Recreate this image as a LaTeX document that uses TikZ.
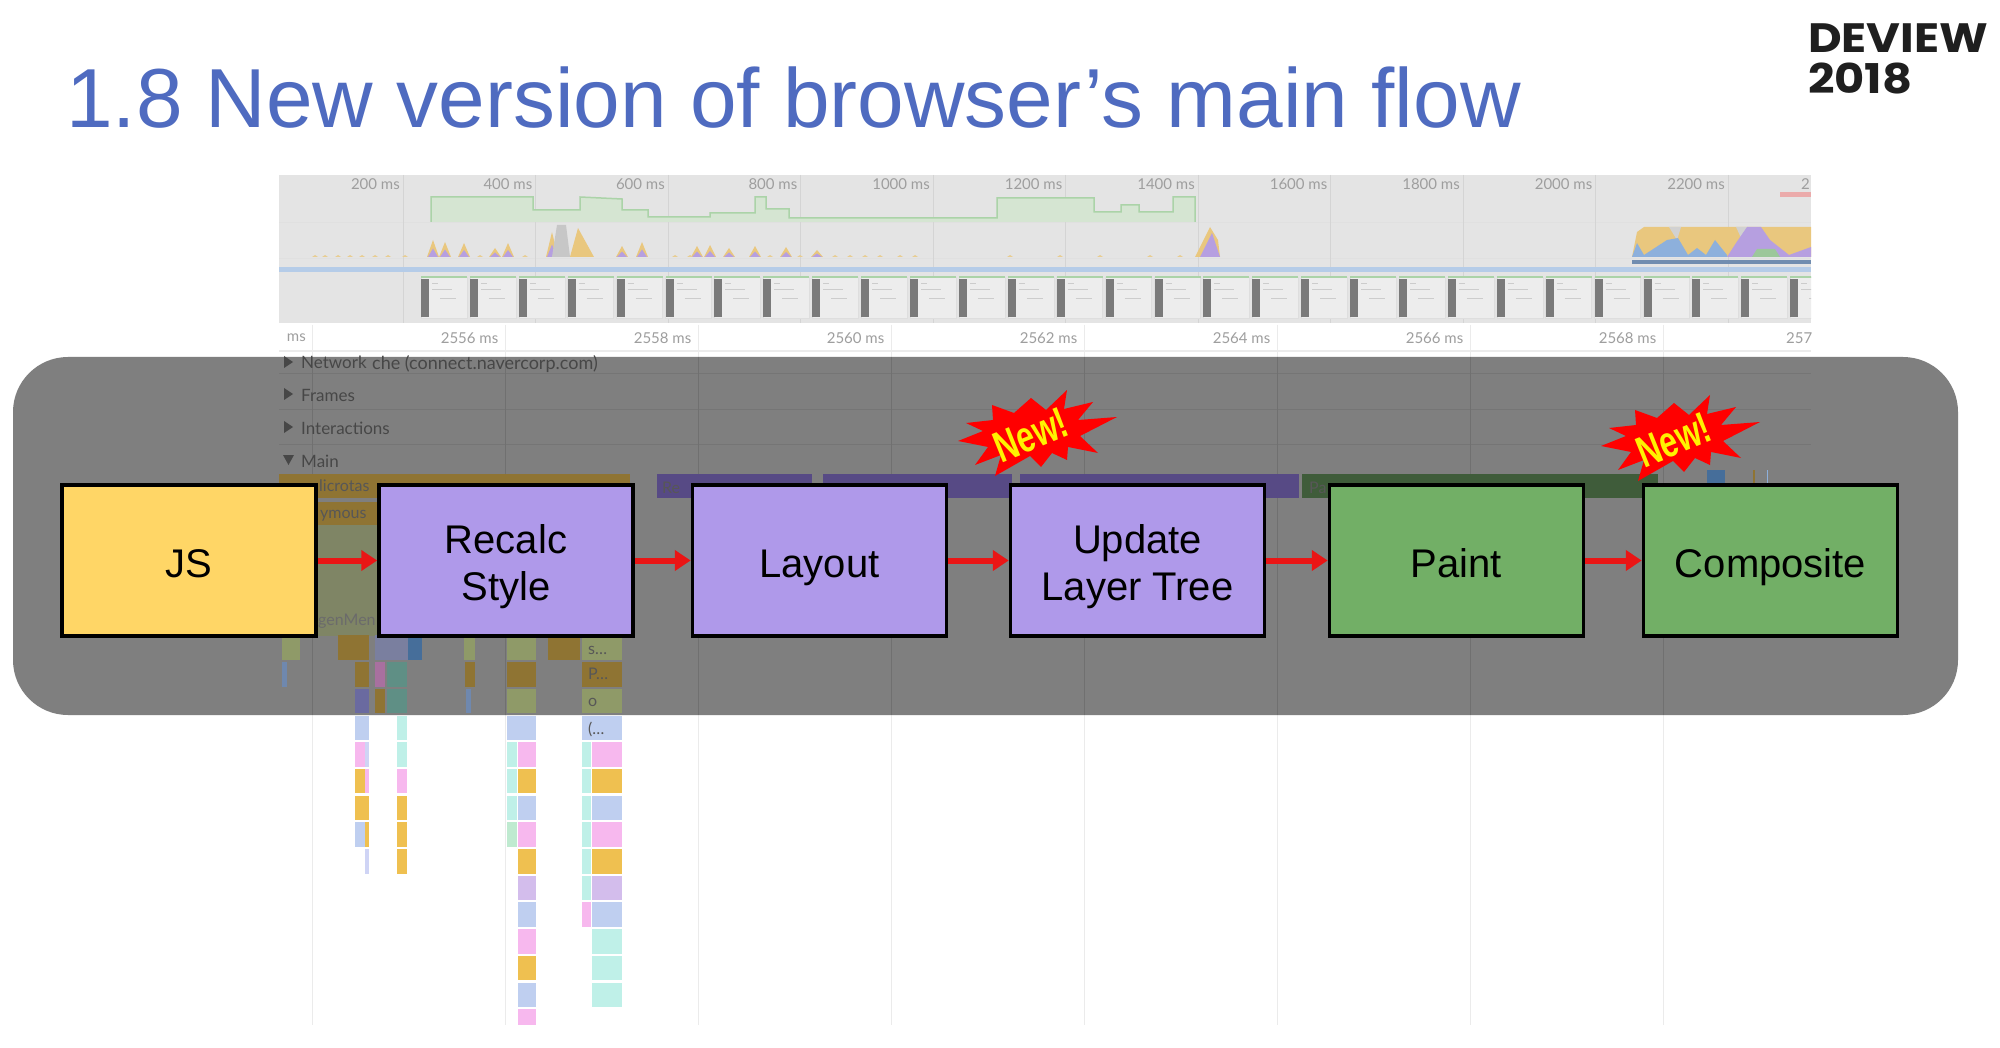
\documentclass[tikz,border=0pt]{standalone}
\usepackage{fontspec}
\setmainfont{Liberation Sans}
\newfontfamily\logofont{Poppins}
\newfontfamily\uifont{Lato}
\usetikzlibrary{arrows.meta}
\definecolor{titleblue}{HTML}{4F6BC0}
\definecolor{jsyellow}{HTML}{FFD666}
\definecolor{boxpurple}{HTML}{AF99EA}
\definecolor{boxgreen}{HTML}{72AF66}
\definecolor{overlaygray}{HTML}{7F7F7F}
\definecolor{ovbg}{HTML}{E4E4E4}
\definecolor{fpsline}{HTML}{ABD3A8}
\definecolor{fpsfill}{HTML}{D5E5D2}
\definecolor{cy}{HTML}{E9C77E}
\definecolor{cb}{HTML}{8DB0DC}
\definecolor{cp}{HTML}{B69FE0}
\definecolor{cg}{HTML}{9CC79A}
\definecolor{brn}{HTML}{8F7433}
\definecolor{olv}{HTML}{7F8565}
\definecolor{lolv}{HTML}{8F9A68}
\definecolor{lblue}{HTML}{BFCFF0}
\definecolor{lpink}{HTML}{F7B8EE}
\definecolor{lteal}{HTML}{BFF0E8}
\definecolor{lyel}{HTML}{EFC050}
\definecolor{lpur}{HTML}{D3BDEC}
\definecolor{llav}{HTML}{CFD4F5}
\definecolor{lgrn}{HTML}{BFEAD0}
\definecolor{dpurple}{HTML}{574A85}
\definecolor{dgreen}{HTML}{3F5C3A}
\definecolor{fteal}{HTML}{5F8F85}
\definecolor{fmauve}{HTML}{A8709F}
\definecolor{fgblue}{HTML}{7A7F9F}
\definecolor{fblue}{HTML}{466E9A}
\definecolor{findigo}{HTML}{6A6AA0}
\definecolor{fthin}{HTML}{6F88AE}
\definecolor{arrowred}{HTML}{EA1515}
\tikzset{
  x=1pt,y=-1pt,
  flowbox/.style={draw=black,line width=3.5pt,minimum width=254pt,minimum height=151pt,inner sep=0pt,align=center,
     font=\fontsize{40}{47}\selectfont,text=black},
  flowarrow/.style={-{Triangle[length=16pt,width=20pt]},line width=6pt,draw=arrowred},
  ticklabel/.style={inner sep=0pt,anchor=east,text=black!38,font=\uifont\fontsize{15}{15}\selectfont},
  rowlabel/.style={inner sep=0pt,anchor=west,text=black!72,font=\uifont\fontsize{17}{17}\selectfont},
  blocklabel/.style={inner sep=0pt,anchor=west,text=black!66,font=\uifont\fontsize{16}{16}\selectfont},
  burst/.pic={
    \fill[red] (29,-43)--(26,-24)--(55,-31)--(40,-13)--(79,-16)--(42,3)--(60,20)--(30,14)--(29,27)--(14,20)--(3,34)--(-8,23)--(-43,43)--(-37,22)--(-63,32)--(-50,14)--(-80,8)--(-55,-2)--(-72,-10)--(-45,-13)--(-46,-28)--(-24,-20)--(-7,-35)--(8,-23)--cycle;
    \node (label) [rotate=22,xscale=.72,text=yellow,inner sep=0pt,font=\bfseries\fontsize{44}{44}\selectfont] at (-7,2) {New!};
  }
}
% row block: x1, x2, row, colour
\newcommand{\blk}[4]{\fill[#4] (#1,{635.4+26.7*(#3-1)}) rectangle (#2,{635.4+26.7*(#3-1)+24.5});}
% one line of a flow box, sitting slightly low as in the reference
\newcommand{\fl}[1]{\raisebox{-7pt}[33pt][14pt]{#1}}
\begin{document}
\begin{tikzpicture}
\useasboundingbox (0,0) rectangle (2000,1048);
\fill[white] (0,0) rectangle (2000,1048);
% title and logo
\node (title) [anchor=base west,inner sep=0pt,text=titleblue,font=\fontsize{83.8}{84}\selectfont] at (66,128) {1.8 New version of browser’s main flow};
\node (logoa) [anchor=base west,inner sep=0pt,xscale=1.13,text=black!88,font=\logofont\bfseries\fontsize{41}{41}\selectfont] at (1808,53) {DEVIEW};
\node (logob) [anchor=base west,inner sep=0pt,xscale=1.13,text=black!88,font=\logofont\bfseries\fontsize{41}{41}\selectfont] at (1808,94) {2018};
% overview
\begin{scope}
\clip (279,175) rectangle (1811,360);
\fill[ovbg] (279,175) rectangle (1811,323);
\draw[black!12,line width=.8pt] (279,222)--(1811,222) (279,258)--(1811,258);
\foreach \k in {0,...,10} \draw[black!17,line width=.8pt] ({403+132.5*\k},175)--({403+132.5*\k},323);
\foreach \k/\t in {0/200,1/400,2/600,3/800,4/1000,5/1200,6/1400,7/1600,8/1800,9/2000,10/2200}
  \node (ov\k) [ticklabel] at ({400+132.5*\k},184) {\t\ ms};
\node (ovlast) [ticklabel,anchor=west] at (1801,184) {2};
% fps
\fill[fpsfill] (431,222)--(431,197)--(533,197)--(533,210)--(580,210)--(580,197)--(622,199)--(622,210)--(648,210)--(648,217)--(710,217)--(710,213)--(755,213)--(755,197)--(766,197)--(766,209)--(789,209)--(789,218)--(997,218)--(997,198)--(1094,198)--(1094,212)--(1121,212)--(1121,205)--(1139,205)--(1139,212)--(1173,212)--(1173,197)--(1195,197)--(1195,222)--cycle;
\draw[fpsline,line width=1.5pt] (431,222)--(431,197)--(533,197)--(533,210)--(580,210)--(580,197)--(622,199)--(622,210)--(648,210)--(648,217)--(710,217)--(710,213)--(755,213)--(755,197)--(766,197)--(766,209)--(789,209)--(789,218)--(997,218)--(997,198)--(1094,198)--(1094,212)--(1121,212)--(1121,205)--(1139,205)--(1139,212)--(1173,212)--(1173,197)--(1195,197)--(1195,222);
% cpu peaks
\foreach \x/\h in {433/240,445/242,464/243,495/248,508/243,622/246,642/242,697/246,710/245,729/248,755/246,786/247,817/250,552/232}{
  \fill[cy] ({\x-6},257)--(\x,\h)--({\x+6},257)--cycle;
  \fill[cp] ({\x-5},257)--(\x,{(\h+257)/2})--({\x+5},257)--cycle;
}
\fill[cy] (570,257) -- (578,228) -- (594,257) --cycle;
\fill[black!22] (552,257)--(557,225)--(566,225)--(570,257)--cycle;
\fill[cy] (1195,257)--(1210,227)--(1218,240)--(1220,257)--cycle;
\fill[cp] (1200,257)--(1212,233)--(1220,257)--cycle;
\foreach \x in {315,325,338,350,362,375,388,405,480,525,675,690,770,800,835,850,865,880,900,915,1010,1060,1100,1150,1180}
  \fill[cy!80!ovbg] ({\x-3},257)--(\x,255)--({\x+3},257)--cycle;
% busy region
\fill[cy] (1632,257)--(1637,232)--(1644,227)--(1811,227)--(1811,257)--cycle;
\fill[black!18] (1669,227)--(1681,227)--(1677,240)--cycle (1736,227)--(1747,227)--(1742,240)--cycle;
\fill[cb] (1632,257)--(1637,243)--(1644,255)--(1667,240)--(1678,238)--(1688,255)--(1697,248)--(1706,255)--(1715,240)--(1727,255)--(1727,257)--cycle;
\fill[cp] (1727,257)--(1736,243)--(1747,227)--(1761,227)--(1770,240)--(1789,255)--(1811,247)--(1811,257)--cycle;
\fill[cg] (1752,257)--(1757,249)--(1775,249)--(1780,257)--cycle;
\fill[cb!80!black] (1632,260) rectangle (1811,264);
\fill[red!25!ovbg] (1780,192) rectangle (1811,197);
% blue bar
\fill[cb!65] (279,267) rectangle (1811,272);
% film strip
\foreach \k in {0,...,28}{
  \fill[black!7] ({421+48.9*\k},277) rectangle ({467+48.9*\k},318);
  \draw[black!13,line width=.6pt] ({421+48.9*\k},277) rectangle ({467+48.9*\k},318);
  \draw[fpsline,line width=1.6pt] ({421+48.9*\k},277)--({467+48.9*\k},277);
  \fill[black!52] ({421+48.9*\k},279) rectangle ({429+48.9*\k},317);
  \draw[black!20,line width=.7pt] ({432+48.9*\k},283)--({438+48.9*\k},283) ({432+48.9*\k},289)--({452+48.9*\k},289) ({440+48.9*\k},298)--({456+48.9*\k},298);
}
% ruler
\foreach \k/\t in {1/2556,2/2558,3/2560,4/2562,5/2564,6/2566,7/2568}
  \node (ru\k) [ticklabel] at ({312.5+193*\k-7},338) {\t\ ms};
\node (rums) [ticklabel] at (306,338) {ms};
\node (rulast) [ticklabel,anchor=west] at (1786,338) {257};
\draw[black!8,line width=1.5pt] (279,351)--(1811,351);
\end{scope}
\foreach \k in {0,...,7} \draw[black!8,line width=1.2pt] ({312.5+193*\k},325)--({312.5+193*\k},1025);
% grey band
\fill[overlaygray,rounded corners=55pt] (13,357) rectangle (1958,715);
\draw[black!54,line width=.9pt] (279,373)--(1811,373) (279,409)--(1811,409) (279,444)--(1811,444);
\foreach \k in {0,...,7} \draw[black!56,line width=1pt] ({312.5+193*\k},357)--({312.5+193*\k},715);
% track labels
\fill[black!72] (284,356)--(293,362)--(284,368)--cycle (284,388)--(293,394)--(284,400)--cycle (284,421)--(293,427)--(284,433)--cycle (283,455)--(294,455)--(288.5,465)--cycle;
\node (tnet) [rowlabel] at (301,362) {Network};
\node (tche) [rowlabel,font=\uifont\fontsize{18}{18}\selectfont] at (372,364) {che (connect.navercorp.com)};
\node (tfra) [rowlabel] at (301,395) {Frames};
\node (tint) [rowlabel] at (301,428) {Interactions};
\node (tmai) [rowlabel] at (301,461) {Main};
% main blocks
\fill[brn] (279,474) rectangle (630,498);
\fill[brn] (279,502) rectangle (379,525);
\fill[olv] (279,525) rectangle (379,636);
\fill[dpurple] (657,474) rectangle (812,498);
\fill[dpurple] (823,474) rectangle (1012,498);
\fill[dpurple] (1020,474) rectangle (1299,498);
\fill[dgreen] (1302,474) rectangle (1658,498);
\fill[fblue] (1707,470) rectangle (1725,488);
\fill[brn] (1753,470) rectangle (1755,488);
\fill[cb] (1767,470) rectangle (1768,488);
\node (mmic) [blocklabel] at (319,486) {licrotas};
\node (many) [blocklabel] at (320,516) {ymous};
\node (mgen) [blocklabel,text=black!58] at (318,621) {genMen};
\node (mre) [blocklabel] at (662,488) {Re};
\node (mpa) [blocklabel] at (1309,488) {Pa};
% flame rows under the boxes
\blk{282}{300}{1}{lolv}\blk{338}{369}{1}{brn}\blk{375}{408}{1}{fgblue}
\blk{408}{422}{1}{fblue}\blk{464}{475}{1}{lolv}\blk{507}{536}{1}{lolv}\blk{548}{580}{1}{brn}\blk{582}{622}{1}{lolv}
\blk{282}{287}{2}{fthin}\blk{355}{369}{2}{brn}\blk{375}{385}{2}{fmauve}\blk{387}{407}{2}{fteal}\blk{465}{475}{2}{brn}\blk{507}{536}{2}{brn}\blk{582}{622}{2}{brn}
\blk{355}{369}{3}{findigo}\blk{375}{385}{3}{brn}\blk{387}{407}{3}{fteal}\blk{466}{471}{3}{fthin}\blk{507}{536}{3}{lolv}\blk{582}{622}{3}{lolv}
\blk{355}{369}{4}{lblue}\blk{397}{407}{4}{lteal}\blk{507}{536}{4}{lblue}\blk{582}{622}{4}{lblue}
\blk{355}{365}{5}{lpink}\blk{365}{369}{5}{llav}\blk{397}{407}{5}{lteal}\blk{507}{517}{5}{lteal}\blk{518}{536}{5}{lpink}\blk{582}{591}{5}{lteal}\blk{592}{622}{5}{lpink}
\blk{355}{365}{6}{lyel}\blk{365}{369}{6}{lpink}\blk{397}{407}{6}{lpink}\blk{507}{517}{6}{lteal}\blk{518}{536}{6}{lyel}\blk{582}{591}{6}{lteal}\blk{592}{622}{6}{lyel}
\blk{355}{369}{7}{lyel}\blk{397}{407}{7}{lyel}\blk{507}{517}{7}{lteal}\blk{518}{536}{7}{lblue}\blk{582}{591}{7}{lteal}\blk{592}{622}{7}{lblue}
\blk{355}{365}{8}{lblue}\blk{365}{369}{8}{lyel}\blk{397}{407}{8}{lyel}\blk{507}{517}{8}{lgrn}\blk{518}{536}{8}{lpink}\blk{582}{591}{8}{lteal}\blk{592}{622}{8}{lpink}
\blk{365}{369}{9}{llav}\blk{397}{407}{9}{lyel}\blk{518}{536}{9}{lyel}\blk{582}{591}{9}{lteal}\blk{592}{622}{9}{lyel}
\blk{518}{536}{10}{lpur}\blk{582}{591}{10}{lteal}\blk{592}{622}{10}{lpur}
\blk{518}{536}{11}{lblue}\blk{582}{591}{11}{lpink}\blk{592}{622}{11}{lblue}
\blk{518}{536}{12}{lpink}\blk{592}{622}{12}{lteal}
\blk{518}{536}{13}{lyel}\blk{592}{622}{13}{lteal}
\blk{518}{536}{14}{lblue}\blk{592}{622}{14}{lteal}
\fill[lpink] (518,1009) rectangle (536,1025);
\node (fs) [blocklabel] at (588,650) {s\ldots};
\node (fp) [blocklabel] at (588,674) {P\ldots};
\node (fo) [blocklabel] at (588,702) {o};
\node (fq) [blocklabel] at (588,729) {(\ldots};
% flow
\node (js) [flowbox,fill=jsyellow] at (189,560.5) {\fl{JS}};
\node (recalc) [flowbox,fill=boxpurple] at (506,560.5) {\fl{Recalc}\\\fl{Style}};
\node (layout) [flowbox,fill=boxpurple] at (819.5,560.5) {\fl{Layout}};
\node (update) [flowbox,fill=boxpurple] at (1137.5,560.5) {\fl{Update}\\\fl{Layer Tree}};
\node (paint) [flowbox,fill=boxgreen] at (1456.5,560.5) {\fl{Paint}};
\node (composite) [flowbox,fill=boxgreen] at (1770.5,560.5) {\fl{Composite}};
\draw[flowarrow] (js)--(recalc);
\draw[flowarrow] (recalc)--(layout);
\draw[flowarrow] (layout)--(update);
\draw[flowarrow] (update)--(paint);
\draw[flowarrow] (paint)--(composite);
\pic (burstA) at (1038,433) {burst};
\pic (burstB) at (1681,438) {burst};
\end{tikzpicture}
\end{document}
